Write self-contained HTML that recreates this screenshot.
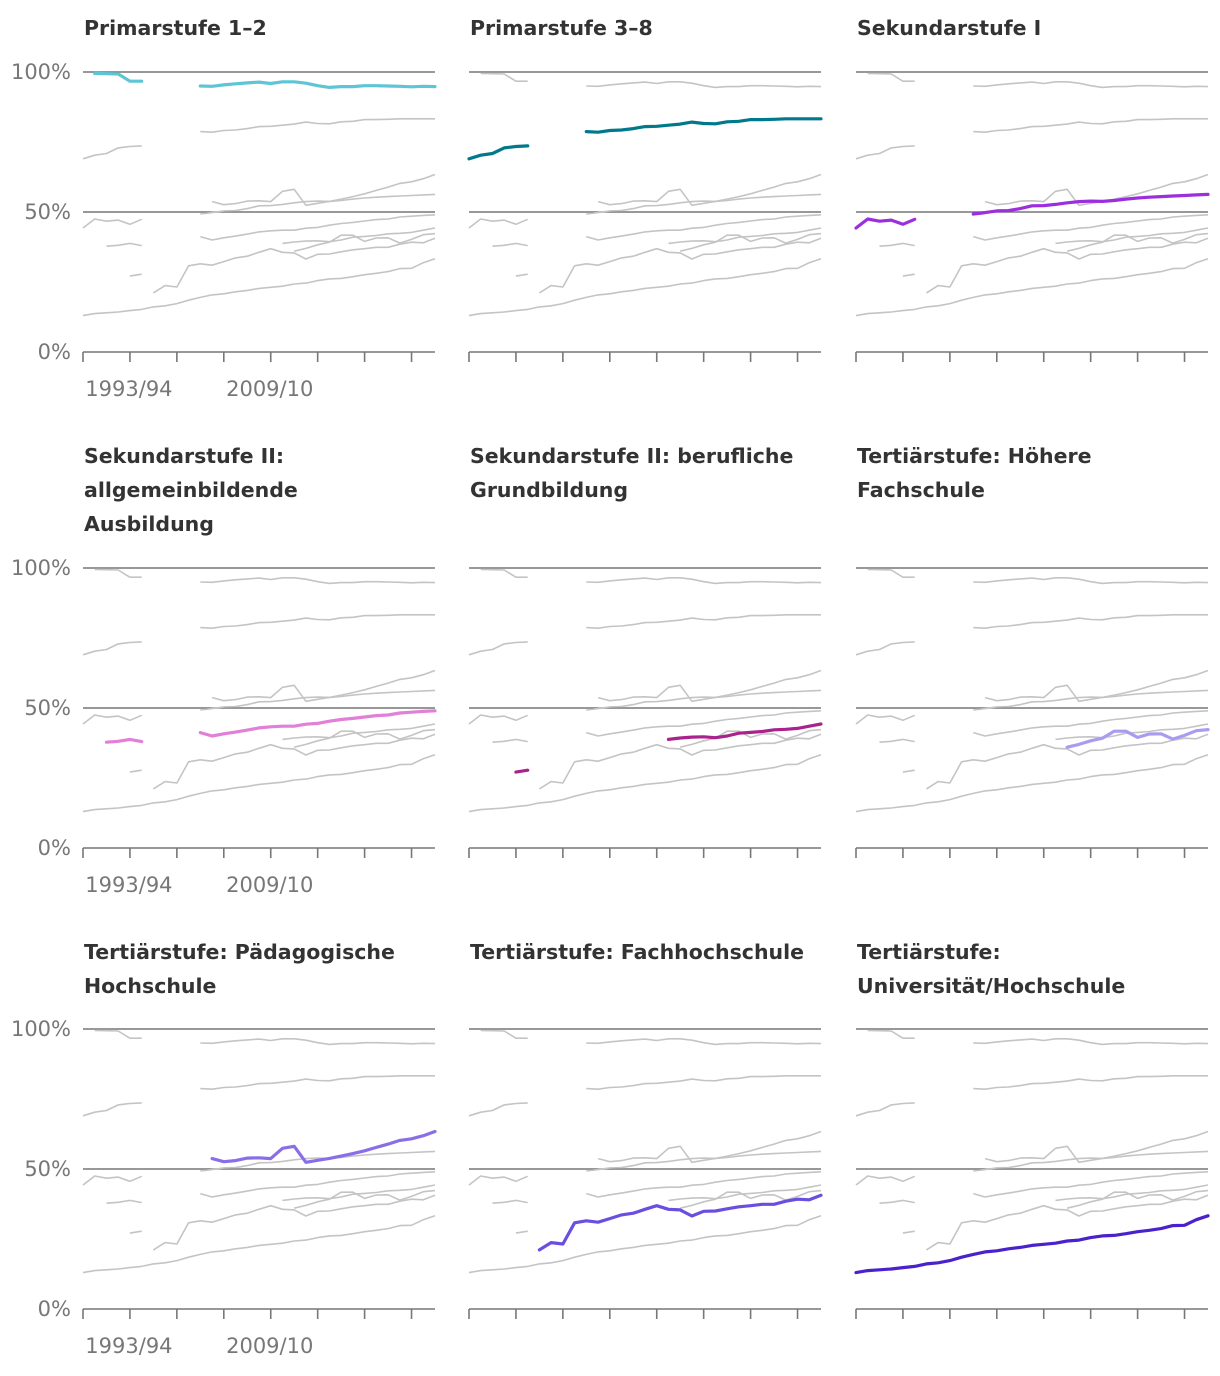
<!DOCTYPE html>
<html><head><meta charset="utf-8"><style>
html,body{margin:0;padding:0;background:#fff;}
svg{display:block;font-family:"DejaVu Sans","Liberation Sans",sans-serif;}
</style></head><body>
<svg id="chart" width="1220" height="1376" viewBox="0 0 1220 1376"></svg>
<script>
const categories = ["1989/90","1990/91","1991/92","1992/93","1993/94","1994/95","1995/96","1996/97","1997/98","1998/99","1999/00","2000/01","2001/02","2002/03","2003/04","2004/05","2009/10","2010/11","2011/12","2012/13","2013/14","2014/15","2015/16","2016/17","2017/18","2018/19","2019/20","2020/21","2021/22","2022/23","2023/24"];
const seriesNames = ["Primarstufe 1–2","Primarstufe 3–8","Sekundarstufe I","Sekundarstufe II: allgemeinbildende Ausbildung","Sekundarstufe II: berufliche Grundbildung","Tertiärstufe: Höhere Fachschule","Tertiärstufe: Pädagogische Hochschule","Tertiärstufe: Fachhochschule","Tertiärstufe: Universität/Hochschule"];
const N = null;
const sPrimar12 = [N,99.5,99.4,99.3,96.7,96.7,N,N,N,N,95.0,94.9,95.4,95.8,96.1,96.4,95.9,96.5,96.5,96.0,95.1,94.5,94.8,94.8,95.1,95.1,95.0,94.9,94.7,94.9,94.8];
const sPrimar38 = [69.0,70.3,70.9,72.9,73.4,73.6,N,N,N,N,78.7,78.5,79.1,79.3,79.8,80.5,80.6,81.0,81.4,82.1,81.6,81.5,82.2,82.4,83.0,83.0,83.1,83.3,83.3,83.3,83.3];
const sSekI = [44.3,47.5,46.7,47.1,45.6,47.4,N,N,N,N,49.3,49.8,50.4,50.5,51.2,52.2,52.3,52.7,53.3,53.7,53.9,53.8,54.1,54.6,55.0,55.3,55.5,55.7,55.9,56.1,56.3];
const sSekIIallg = [N,N,37.8,38.1,38.8,38.0,N,N,N,N,41.2,40.0,40.8,41.4,42.1,42.9,43.3,43.5,43.5,44.2,44.5,45.3,45.9,46.3,46.8,47.3,47.5,48.2,48.5,48.8,49.0];
const sSekIIberuf = [N,N,N,N,27.1,27.8,N,N,N,N,N,N,N,N,N,N,N,38.8,39.3,39.6,39.7,39.4,40.0,41.0,41.3,41.6,42.2,42.4,42.7,43.5,44.3];
const sHF = [N,N,N,N,N,N,N,N,N,N,N,N,N,N,N,N,N,N,36.0,37.0,38.3,39.2,41.7,41.7,39.5,40.7,40.8,38.9,40.2,41.9,42.3];
const sPH = [N,N,N,N,N,N,N,N,N,N,N,53.7,52.6,53.0,53.9,54.0,53.7,57.4,58.1,52.4,53.1,53.8,54.6,55.5,56.5,57.7,58.9,60.2,60.8,61.9,63.4];
const sFH = [N,N,N,N,N,N,21.1,23.7,23.2,30.8,31.5,31.0,32.3,33.6,34.2,35.6,36.9,35.6,35.4,33.2,34.9,35.0,35.8,36.5,36.9,37.4,37.4,38.5,39.2,39.0,40.6];
const sUni = [13.0,13.7,14.0,14.3,14.8,15.2,16.1,16.5,17.3,18.5,19.5,20.4,20.8,21.5,22.0,22.7,23.1,23.5,24.3,24.6,25.5,26.1,26.3,26.9,27.6,28.1,28.7,29.8,29.9,31.9,33.3];
const allSeries = [sPrimar12,sPrimar38,sSekI,sSekIIallg,sSekIIberuf,sHF,sPH,sFH,sUni];
const yTicks = [0,50,100];
const yTickLabels = ["0%","50%","100%"];
const xTickLabelIdx = [4,16];

const colors = ["#5ec5d6","#00798c","#9b2fe0","#e27fd6","#a8248c","#a99cf0","#8a6ee8","#6a4ee0","#4a22cc"];
const titleLines = [["Primarstufe 1–2"],["Primarstufe 3–8"],["Sekundarstufe I"],["Sekundarstufe II:","allgemeinbildende","Ausbildung"],["Sekundarstufe II: berufliche","Grundbildung"],["Tertiärstufe: Höhere","Fachschule"],["Tertiärstufe: Pädagogische","Hochschule"],["Tertiärstufe: Fachhochschule"],["Tertiärstufe:","Universität/Hochschule"]];
const colX = [83,469,856];
const rowBase = [352,848,1309];
const titleTop = [28,456,952];
const W = 352, H = 280;
const svg = document.getElementById('chart');
const NS = "http://www.w3.org/2000/svg";
function mk(tag, attrs, parent){const e=document.createElementNS(NS,tag);for(const k in attrs)e.setAttribute(k,attrs[k]);(parent||svg).appendChild(e);return e;}
function xScale(px0,i){return px0 + i*W/(categories.length-1);}
function yScale(base,v){return base - v/100*H;}
function pathFor(data,px0,base){let d="",pen=false;data.forEach((v,i)=>{if(v===null){pen=false;return;}d+=(pen?"L":"M")+xScale(px0,i).toFixed(1)+","+yScale(base,v).toFixed(1);pen=true;});return d;}

for(let p=0;p<9;p++){
  const c=p%3, r=Math.floor(p/3);
  const px0=colX[c], base=rowBase[r];
  const g=mk('g',{});
  
  
  titleLines[p].forEach((ln,k)=>{
    const t=mk('text',{x:px0+1,y:titleTop[r]+k*34+7,'font-size':'20.5','font-weight':'bold',fill:'#333'},g);
    
    
    t.textContent=ln;
  });
  yTicks.forEach((v,k)=>{
    if(v>0){const gl=mk('line',{x1:px0,x2:px0+W,y1:yScale(base,v),y2:yScale(base,v),stroke:'#777','stroke-width':'1.6'},g);
      
      }
    if(c===0){const t=mk('text',{x:71,y:yScale(base,v)+7,'font-size':'21','text-anchor':'end',fill:'#777'},g);
      
      
      t.textContent=yTickLabels[k];}
  });
  allSeries.forEach((s,k)=>{
    if(k===p)return;
    const pa=mk('path',{d:pathFor(s,px0,base),fill:'none',stroke:'#c4c4c4','stroke-width':'1.6','stroke-linejoin':'round'},g);
    
    
  });
  const hl=mk('path',{d:pathFor(allSeries[p],px0,base),fill:'none',stroke:colors[p],'stroke-width':'3.2','stroke-linejoin':'round','stroke-linecap':'round'},g);
  
  
  const ax=mk('line',{x1:px0,x2:px0+W,y1:base,y2:base,stroke:'#777','stroke-width':'1.6'},g);
  
  
  for(let i=0;i<categories.length;i+=4){
    const tk=mk('line',{x1:xScale(px0,i),x2:xScale(px0,i),y1:base,y2:base+10,stroke:'#777','stroke-width':'1.6'},g);
    
    
  }
  if(c===0){
    xTickLabelIdx.forEach(i=>{
      const t=mk('text',{x:xScale(px0,i)-1,y:base+44,'font-size':'21','text-anchor':'middle',fill:'#777'},g);
      
      
      t.textContent=categories[i];
    });
  }
}
</script>
</body></html>
